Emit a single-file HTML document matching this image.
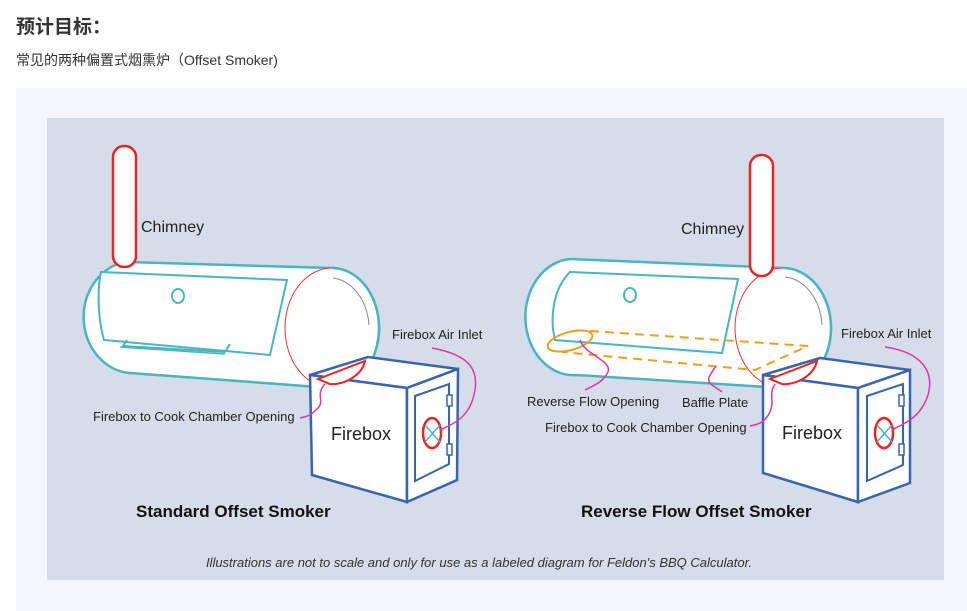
<!DOCTYPE html>
<html><head><meta charset="utf-8"><style>
html,body{margin:0;padding:0;background:#fff;width:967px;height:611px;overflow:hidden;font-family:"Liberation Sans","Noto Sans CJK SC",sans-serif;}
.h{position:absolute;left:16px;top:12px;font-size:19px;font-weight:bold;color:#333;}
.s{position:absolute;left:16px;top:50px;font-size:14px;color:#333;}
.box{position:absolute;left:16px;top:88px;width:951px;height:523px;background:#f4f5fd;}
svg{position:absolute;left:0;top:0;}
</style></head><body>
<div class="h">预计目标：</div>
<div class="s">常见的两种偏置式烟熏炉（Offset Smoker)</div>
<div class="box"></div>
<svg width="967" height="611" viewBox="0 0 967 611" font-family="Liberation Sans, sans-serif">
<rect x="47" y="118" width="897" height="462" fill="#d4dde9"/>
<!-- LEFT -->
<path d="M125 262 L332 268 A47 60 0 0 1 332 388 L130 373 A50 56 0 0 1 125 262 Z" fill="#fff" stroke="#4bb5bf" stroke-width="2.5"/>
<ellipse cx="332" cy="328" rx="47" ry="60" fill="#fff" stroke="none"/>
<path d="M332 268 A47 60 0 0 1 332 388" fill="none" stroke="#4bb5bf" stroke-width="2.5"/>
<path d="M332 268 A47 60 0 0 0 332 388" fill="none" stroke="#e33" stroke-width="1"/>
<path d="M333 278 A40 52 0 0 1 369 325" fill="none" stroke="#888" stroke-width="1"/>
<path d="M101 272 L287 280 L270 355 L104 340 C98 320 97 290 101 272 Z" fill="#fff" stroke="#4bb5bf" stroke-width="2"/>
<ellipse cx="178" cy="296" rx="6" ry="7" fill="none" stroke="#4bb5bf" stroke-width="2"/>
<path d="M127 340 L123 346 L225 352 L230 344" fill="none" stroke="#4bb5bf" stroke-width="2"/>
<path d="M120 347 L225 354" fill="none" stroke="#4bb5bf" stroke-width="1.5"/>
<rect x="113" y="146" width="23" height="121" rx="11" fill="#fff" stroke="#e22" stroke-width="2.5"/>
<path d="M310 375 L368 357 L458 369 L407 388 Z" fill="#fff" stroke="#3a63b0" stroke-width="2.5"/>
<path d="M310 375 L407 388 L407 502 L312 475 Z" fill="#fff" stroke="#3a63b0" stroke-width="2.5"/>
<path d="M407 388 L458 369 L457 480 L407 502 Z" fill="#fff" stroke="#3a63b0" stroke-width="2.5"/>
<path d="M415 396 L449 384 L449 464 L415 481 Z" fill="none" stroke="#3a63b0" stroke-width="2"/>
<rect x="447" y="395" width="5" height="11" fill="#fff" stroke="#3a63b0" stroke-width="1.5"/>
<rect x="447" y="444" width="5" height="11" fill="#fff" stroke="#3a63b0" stroke-width="1.5"/>
<ellipse cx="432" cy="433" rx="9" ry="15" fill="#fff" stroke="#e22" stroke-width="2.5"/>
<path d="M425 425 L440 442 M425 442 L440 425" stroke="#4bb5bf" stroke-width="1.5"/>
<path d="M318 379 L365 361 C362 375 345 385 330 384 Z" fill="#fff" stroke="#e22" stroke-width="2"/>
<path d="M325 384 C315 395 325 400 318 408 C312 414 310 416 300 418" fill="none" stroke="#e2369a" stroke-width="1.5"/>
<path d="M432 348 C470 355 480 370 474 395 C468 420 450 425 440 430" fill="none" stroke="#e2369a" stroke-width="1.5"/>
<text x="141" y="232" font-size="16" fill="#222">Chimney</text>
<text x="392" y="339" font-size="13" fill="#222">Firebox Air Inlet</text>
<text x="93" y="421" font-size="13" fill="#222">Firebox to Cook Chamber Opening</text>
<text x="331" y="440" font-size="18" fill="#222">Firebox</text>
<text x="136" y="517" font-size="17" font-weight="bold" fill="#111">Standard Offset Smoker</text>
<!-- RIGHT -->
<path d="M570 259 L783 268 A48 60 0 0 1 783 388 L577 375 A48 58 0 0 1 570 259 Z" fill="#fff" stroke="#4bb5bf" stroke-width="2.5"/>
<ellipse cx="783" cy="328" rx="48" ry="60" fill="#fff"/>
<path d="M783 268 A48 60 0 0 1 783 388" fill="none" stroke="#4bb5bf" stroke-width="2.5"/>
<path d="M783 268 A48 60 0 0 0 783 388" fill="none" stroke="#e33" stroke-width="1"/>
<path d="M785 277 A40 52 0 0 1 822 325" fill="none" stroke="#888" stroke-width="1"/>
<path d="M570 272 L738 279 L722 353 L555 340 C550 320 552 290 570 272 Z" fill="#fff" stroke="#4bb5bf" stroke-width="2"/>
<ellipse cx="630" cy="295" rx="6" ry="7" fill="none" stroke="#4bb5bf" stroke-width="2"/>
<ellipse cx="570" cy="341" rx="23" ry="9" transform="rotate(-15 570 341)" fill="none" stroke="#e8a020" stroke-width="2"/>
<path d="M590 331 L808 346 L755 370 L562 352" fill="none" stroke="#e8a020" stroke-width="2" stroke-dasharray="9 6"/>
<rect x="750" y="155" width="23" height="121" rx="11" fill="#fff" stroke="#e22" stroke-width="2.5"/>
<path d="M763 375 L820 358 L910 370 L858 388 Z" fill="#fff" stroke="#3a63b0" stroke-width="2.5"/>
<path d="M763 375 L858 388 L858 502 L763 473 Z" fill="#fff" stroke="#3a63b0" stroke-width="2.5"/>
<path d="M858 388 L910 370 L910 483 L858 502 Z" fill="#fff" stroke="#3a63b0" stroke-width="2.5"/>
<path d="M867 396 L903 384 L903 465 L867 481 Z" fill="none" stroke="#3a63b0" stroke-width="2"/>
<rect x="899" y="395" width="5" height="11" fill="#fff" stroke="#3a63b0" stroke-width="1.5"/>
<rect x="899" y="444" width="5" height="11" fill="#fff" stroke="#3a63b0" stroke-width="1.5"/>
<ellipse cx="884" cy="433" rx="9" ry="15" fill="#fff" stroke="#e22" stroke-width="2.5"/>
<path d="M877 425 L892 442 M877 442 L892 425" stroke="#4bb5bf" stroke-width="1.5"/>
<path d="M770 379 L817 361 C814 375 797 385 782 384 Z" fill="#fff" stroke="#e22" stroke-width="2"/>
<path d="M775 384 C768 395 775 400 770 412 C765 422 760 424 750 426" fill="none" stroke="#e2369a" stroke-width="1.5"/>
<path d="M580 340 C585 355 612 360 608 372 C603 382 595 385 585 390" fill="none" stroke="#e2369a" stroke-width="1.5"/>
<path d="M716 366 C710 375 705 380 712 385 C716 388 720 390 722 392" fill="none" stroke="#e2369a" stroke-width="1.5"/>
<path d="M885 347 C920 352 935 370 928 395 C920 420 900 425 892 430" fill="none" stroke="#e2369a" stroke-width="1.5"/>
<text x="681" y="234" font-size="16" fill="#222">Chimney</text>
<text x="841" y="338" font-size="13" fill="#222">Firebox Air Inlet</text>
<text x="527" y="406" font-size="13" fill="#222">Reverse Flow Opening</text>
<text x="682" y="407" font-size="13" fill="#222">Baffle Plate</text>
<text x="545" y="432" font-size="13" fill="#222">Firebox to Cook Chamber Opening</text>
<text x="782" y="439" font-size="18" fill="#222">Firebox</text>
<text x="581" y="517" font-size="17" font-weight="bold" fill="#111">Reverse Flow Offset Smoker</text>
<text x="479" y="567" font-size="13" font-style="italic" fill="#333" text-anchor="middle">Illustrations are not to scale and only for use as a labeled diagram for Feldon's BBQ Calculator.</text>
</svg>
</body></html>
